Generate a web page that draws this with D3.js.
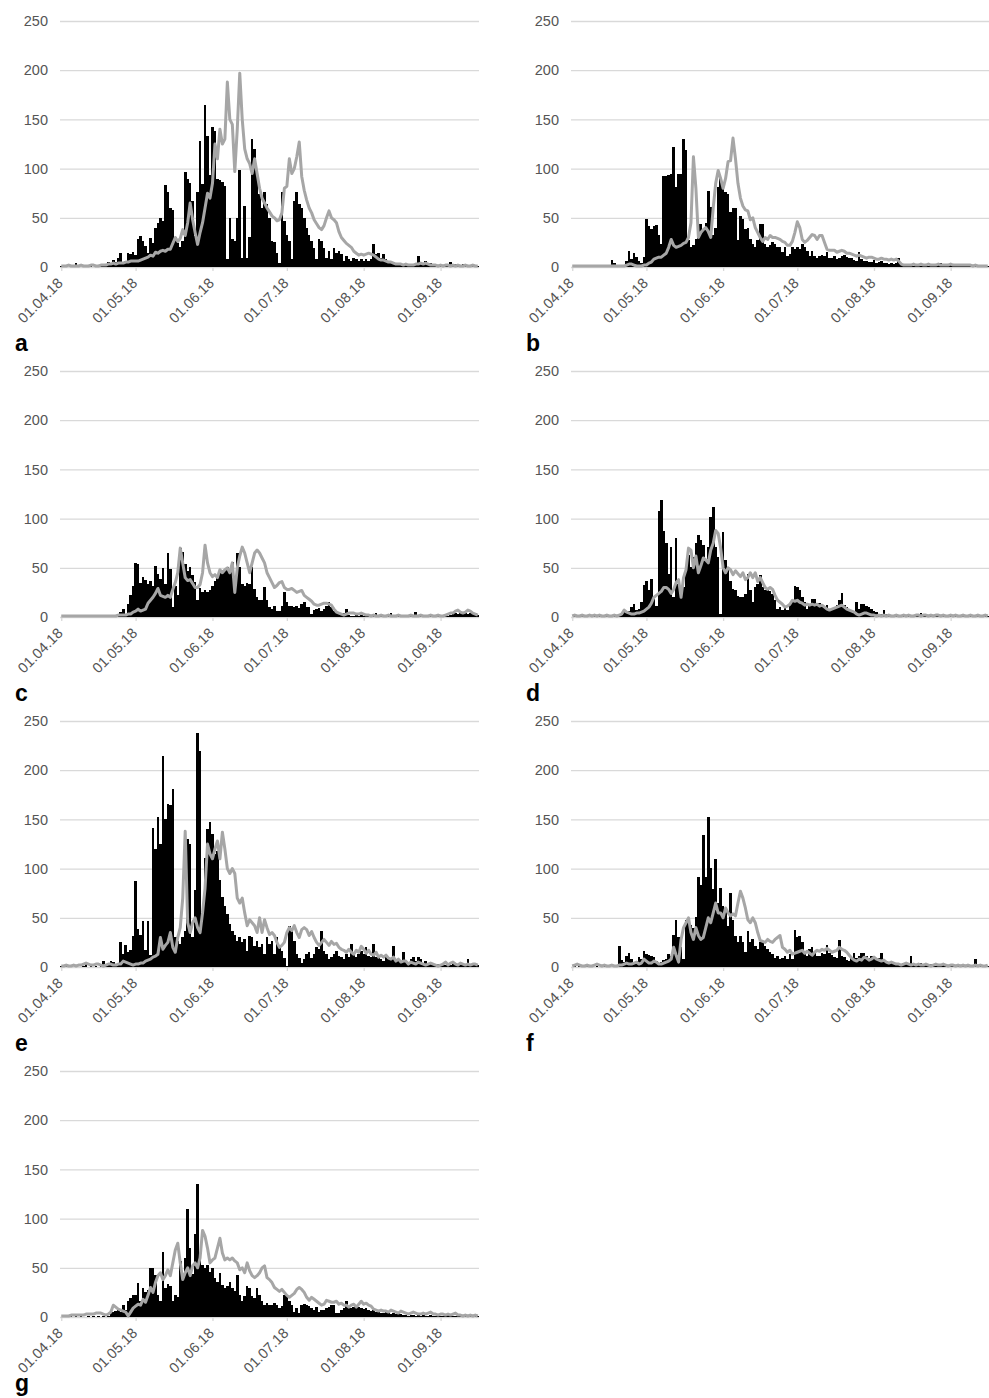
<!DOCTYPE html>
<html>
<head>
<meta charset="utf-8">
<script src="https://cdn.jsdelivr.net/npm/d3@7"></script>
<style>
html, body { margin: 0; padding: 0; background: #fff; }
svg { display: block; font-family: "Liberation Sans", Arial, sans-serif; }
</style>
</head>
<body>
<svg id="chart" width="989" height="1398"></svg>
<script>
//  Daily values, 01.04.18 .. 16.09.18 (169 days). Bars = black, line = grey
const firstDay = '01.04.18';
const lastDay = '16.09.18';
const tickLabels = ['01.04.18', '01.05.18', '01.06.18', '01.07.18', '01.08.18', '01.09.18'];
const yTicks = [0, 50, 100, 150, 200, 250];
const panelNames = ['a', 'b', 'c', 'd', 'e', 'f', 'g'];

const aBars = [
  1,0,1,0,0,2,4,0,0,1, 0,1,2,0,1,0,2,1,3,5, 3,7,5,9,14,4,6,14,13,15,
  12,28,31,26,21,14,29,24,40,45, 50,47,83,76,60,58,30,24,20,26,
  97,89,85,67,32,76,128,84,165,133, 93,142,138,89,88,86,82,8,50,28,
  26,50,99,9,62,9,30,130,120,98, 74,60,76,64,50,26,25,14,4,76,
  47,33,26,8,67,76,64,60,50,40, 33,26,19,8,28,26,19,9,16,8,
  19,14,16,13,6,11,8,6,9,8, 6,8,6,8,6,8,23,13,14,9,
  13,8,6,5,3,3,2,3,2,3, 2,3,2,3,11,4,3,6,3,4, 2,2,1,2,1,2,3,5,2,3,
  1,2,3,1,2,1,2,1,1
];
const aLine = [
  1,1,1,2,1,1,1,1,2,1, 1,1,2,2,1,1,2,2,2,3, 3,4,3,4,4,4,5,5,6,6,
  6,6,7,8,9,10,12,11,15,14, 16,17,16,18,18,24,30,26,29,38,
  32,45,65,48,35,23,35,45,60,75, 70,85,125,110,140,125,130,188,150,145,
  97,140,197,150,120,110,105,95,110,95, 80,70,65,60,56,52,50,47,48,55,
  80,82,110,95,100,112,127,92,78,68, 60,55,48,44,40,38,42,50,57,50,
  48,45,36,30,27,24,22,20,16,14, 12,13,12,13,14,13,12,10,8,7,
  7,6,5,5,4,3,3,3,2,3, 2,2,2,3,3,4,3,4,3,2, 2,2,1,2,1,2,2,1,2,1,
  2,1,1,2,1,1,2,1,1
];

const bBars = [
  0,0,1,0,0,1,0,0,0,1, 0,0,1,0,1,0,7,4,2,1, 1,2,6,16,8,14,10,6,4,10,
  49,42,39,42,43,33,23,92,92,94, 95,122,81,95,95,130,119,27,20,22,
  28,44,44,38,45,77,61,33,40,81, 90,80,76,74,56,60,60,27,52,49,
  39,40,28,23,20,27,44,44,23,20, 22,25,23,20,20,15,20,11,13,20,
  18,20,18,23,20,16,11,16,11,9, 11,12,11,15,9,9,11,8,9,11,
  12,10,9,9,7,6,15,8,6,6, 5,5,7,4,5,6,4,4,3,4,
  3,4,9,2,1,1,2,1,1,2, 1,1,2,1,1,2,1,1,4,4, 2,1,1,2,1,1,2,3,1,1,
  1,2,1,1,0,1,1,2,1
];
const bLine = [
  1,1,1,1,1,1,1,1,1,1, 1,1,1,1,1,1,1,1,1,1, 1,1,2,3,3,2,1,1,1,2,
  2,4,5,8,9,10,10,12,14,20, 28,22,20,21,22,24,25,30,45,112,
  80,30,35,38,40,36,30,60,85,98, 90,80,90,107,108,131,110,85,70,62,
  58,57,48,50,40,35,30,26,30,28, 32,30,30,29,28,26,25,22,22,26,
  35,46,40,28,25,27,30,33,32,28, 32,32,25,18,17,17,17,15,16,17,
  16,14,14,13,12,11,12,11,10,9, 10,10,9,8,8,9,8,8,7,8,
  7,8,6,3,2,2,2,2,3,2, 2,3,2,2,3,2,2,2,3,2, 2,2,2,3,2,2,2,2,2,2,
  2,2,1,2,1,1,1,1,1
];

const cBars = [
  0,1,0,0,1,0,0,1,0,0, 1,0,0,1,0,1,0,0,1,1, 1,1,2,3,5,8,3,13,22,32,
  55,54,35,41,38,34,37,31,52,44, 39,50,34,65,49,10,32,22,70,66,
  54,47,51,43,36,17,29,25,27,25, 27,32,37,41,46,45,47,51,47,56,
  42,65,51,34,32,35,34,51,28,20, 17,17,30,17,10,8,11,6,6,11,
  25,15,11,11,10,11,9,13,15,10, 10,3,7,8,9,6,8,11,15,10,
  6,5,3,2,4,8,2,1,1,2, 1,2,1,1,2,1,1,4,1,2,
  1,1,2,4,1,1,2,1,1,1, 2,1,1,5,1,1,2,1,1,1, 1,2,1,1,1,2,1,2,3,4,
  3,4,3,4,3,4,3,4,2
];
const cLine = [
  1,1,1,1,1,1,1,1,1,1, 1,1,1,1,1,1,1,1,1,1, 1,1,1,2,2,2,2,3,3,5,
  6,8,6,7,8,14,17,20,24,29, 22,21,20,22,20,28,35,45,70,55,
  40,37,38,34,30,30,33,45,73,55, 45,41,43,40,48,45,48,50,45,55,
  25,50,62,71,65,55,45,55,65,68, 65,60,55,45,40,35,30,32,35,36,
  30,28,28,29,27,25,26,27,22,20, 18,16,13,12,12,13,14,14,13,12,
  8,5,4,3,2,3,4,4,4,3, 3,4,3,2,2,1,2,1,1,2,
  1,1,2,1,1,1,2,1,1,1, 1,2,1,1,1,2,1,1,1,2, 1,1,2,1,1,2,3,4,4,6,
  7,5,4,5,7,6,4,3,2
];

const dBars = [
  0,1,0,1,2,0,1,0,1,1, 0,1,2,0,1,0,1,2,1,1, 2,6,4,6,10,13,7,8,15,33,
  37,27,39,18,11,108,119,87,75,44, 71,20,80,34,23,30,51,63,51,61,
  75,83,78,73,58,71,102,112,71,61, 3,86,58,49,37,28,27,21,20,20,
  23,44,27,15,30,34,43,30,27,27, 26,23,17,8,10,7,10,7,12,17,
  32,30,27,20,15,8,13,18,18,12, 14,12,10,12,7,8,10,12,17,24,
  12,10,7,6,5,15,8,13,13,11, 10,8,6,5,3,3,7,3,2,2,
  1,2,1,2,1,1,2,1,2,1, 2,4,3,2,1,2,1,1,2,1, 1,2,1,1,1,2,1,1,1,2,
  1,1,1,2,1,1,1,1,1
];
const dLine = [
  1,2,1,1,2,1,1,2,1,2, 1,2,1,1,2,1,1,2,1,2, 3,7,5,4,3,3,4,4,5,6,
  8,10,14,20,22,24,26,30,30,28, 24,28,35,38,20,40,48,70,68,50,
  62,45,52,60,58,55,68,75,88,85, 70,50,45,50,48,43,47,44,41,45,
  38,40,45,40,45,36,40,35,30,28, 30,28,22,17,15,13,10,11,13,17,
  16,17,15,14,12,13,12,13,12,13, 11,12,10,8,7,8,9,10,11,12,
  10,8,7,6,5,3,2,3,4,4, 3,2,2,1,2,1,2,1,2,1,
  1,2,1,1,2,1,2,1,1,2, 2,1,2,2,1,2,1,2,2,1, 2,1,1,2,1,2,1,1,2,1,
  1,2,1,1,2,1,1,2,1
];

const eBars = [
  1,0,1,0,1,0,1,0,0,1, 3,0,1,0,1,0,2,6,2,3, 6,5,3,4,25,13,22,15,17,32,
  87,39,33,47,17,47,12,141,120,152, 125,214,150,166,165,181,30,26,23,30,
  37,130,125,30,78,238,220,54,111,140, 147,135,115,118,88,71,62,54,44,37,
  33,26,30,25,28,16,32,30,21,26, 20,23,13,30,23,26,13,30,21,16,
  9,1,42,37,26,13,9,4,8,13, 15,9,13,20,18,37,16,13,8,10,
  13,16,11,10,8,13,10,23,13,10, 13,16,13,20,11,10,23,10,10,8,
  6,10,8,8,21,8,6,4,15,6, 4,8,10,6,10,8,4,6,3,4, 3,2,3,2,3,2,2,2,3,2,
  2,2,2,3,8,3,2,3,2
];
const eLine = [
  1,1,2,1,1,2,1,2,2,3, 4,3,2,2,3,3,2,1,2,3, 3,2,2,3,3,6,5,4,3,2,
  3,3,4,4,6,7,8,10,11,13, 30,18,22,25,35,20,15,30,40,70,
  138,45,35,45,50,40,35,55,80,125, 115,110,120,128,110,137,120,100,95,100,
  95,70,65,70,55,42,48,45,42,35, 50,35,48,40,33,35,32,25,20,22,
  25,35,40,37,42,35,30,38,40,38, 32,36,30,25,22,25,28,25,22,26,
  23,24,20,18,17,15,18,15,13,17, 15,21,18,14,17,13,12,15,10,12,
  10,12,9,8,10,6,8,5,6,6, 3,5,4,3,5,4,3,2,3,4, 3,2,1,2,3,5,2,4,5,3,
  2,4,3,2,3,2,3,3,2
];

const fBars = [
  0,1,0,1,0,1,1,0,1,0, 1,0,1,1,0,1,0,1,1,21, 7,5,11,14,8,4,6,10,8,16,
  13,12,11,10,6,4,5,7,8,13, 11,33,48,30,20,8,48,48,43,40,
  51,91,83,134,91,152,101,79,110,65, 80,62,59,42,75,48,31,25,31,25,
  15,37,25,28,21,18,25,25,21,18, 15,13,9,11,8,9,11,8,13,8,
  38,30,31,25,15,11,18,20,14,11, 11,14,13,22,14,12,10,9,27,11,
  10,7,6,9,14,9,11,14,14,11, 9,11,8,8,9,14,6,6,5,5,
  4,3,2,3,4,3,4,11,3,2, 3,4,3,2,2,3,2,1,2,1, 2,1,2,1,1,2,1,2,1,1,
  1,2,1,8,1,1,2,1,1
];
const fLine = [
  1,2,3,2,1,1,2,1,1,2, 3,2,1,2,1,1,2,1,1,2, 2,3,4,3,3,4,5,3,4,8,
  6,4,4,6,5,3,3,4,5,6, 8,20,12,5,28,40,45,50,35,28,
  40,32,28,30,40,50,45,55,65,55, 55,50,60,55,52,54,52,65,77,70,
  60,48,45,50,45,35,27,26,25,28, 26,25,28,30,32,20,18,15,17,13,
  14,15,16,17,14,16,14,12,15,17, 16,18,17,19,17,15,16,17,20,18,
  17,15,12,9,7,6,8,7,10,9, 7,8,10,8,7,6,7,5,4,5,
  4,3,3,2,3,4,3,2,3,2, 3,2,2,3,2,1,2,3,2,2, 3,2,1,2,2,1,2,1,2,1,
  2,1,1,2,1,2,1,1,2
];

const gBars = [
  0,1,0,0,1,0,1,0,1,0, 0,1,0,1,0,1,0,1,0,1, 4,5,6,7,5,12,7,16,19,22,
  22,35,16,29,25,27,50,50,43,22, 16,66,29,34,31,16,22,20,57,42,
  60,110,70,44,84,135,63,53,50,53, 46,50,40,36,45,33,29,31,36,29,
  26,43,22,16,21,31,29,21,19,29, 22,16,12,14,12,12,14,12,9,11,
  22,21,16,12,5,9,4,12,13,12, 11,9,7,10,5,7,7,9,10,12,
  12,4,4,7,9,16,10,9,10,12, 10,9,8,9,7,6,7,5,5,4,
  4,5,4,3,4,3,4,3,2,2, 1,2,2,1,2,1,2,1,1,2, 1,1,2,1,1,1,2,1,1,1,
  1,1,1,2,1,1,1,1,1
];
const gLine = [
  1,1,1,1,2,2,2,2,2,2, 3,3,3,3,4,4,4,3,2,3, 5,12,10,8,7,6,5,1,5,9,
  11,13,12,18,15,22,30,25,35,42, 45,38,42,48,42,55,68,75,55,38,
  45,50,42,52,55,50,60,88,82,70, 55,58,60,70,80,65,58,60,58,60,
  57,55,48,50,45,55,47,42,40,42, 45,50,52,40,38,35,30,28,26,28,
  25,22,20,22,24,28,30,28,25,20, 17,20,18,16,14,12,13,17,16,15,
  15,16,13,14,12,12,10,12,13,10, 13,16,13,14,12,11,8,7,6,7,
  6,6,5,7,6,5,4,6,5,4, 3,4,5,4,3,3,4,3,4,5, 3,3,2,3,3,2,3,2,3,4,
  2,2,1,2,1,2,1,2,1
];

const seriesBars = [aBars, bBars, cBars, dBars, eBars, fBars, gBars];
const seriesLine = [aLine, bLine, cLine, dLine, eLine, fLine, gLine];


// ======================= LAYOUT ===============================
const parseDay = d3.timeParse('%d.%m.%y');
const startDay = parseDay(firstDay);
const nDays = d3.timeDay.count(startDay, parseDay(lastDay)) + 1;
const tickIdx = tickLabels.map(t => d3.timeDay.count(startDay, parseDay(t)));

const columns = [ { x0: 60, x1: 479 }, { x0: 571, x1: 989 } ];
const rowTop = 21;
const rowStep = 350;
const plotH = 246;

const gridColor = '#d9d9d9';
const textColor = '#555555';
const lineColor = '#a6a6a6';

const svgElem = d3.select('#chart');

panelNames.forEach((name, i) => {
    const col = columns[i % 2];
    const row = Math.floor(i / 2);
    const top = rowTop + row * rowStep;
    const base = top + plotH;

    const xScale = d3.scaleLinear()
        .domain([-0.5, nDays - 0.5])
        .range([col.x0, col.x1]);
    const yScale = d3.scaleLinear()
        .domain([0, 250])
        .range([base, top]);

    const panel = svgElem.append('g').attr('class', `panel panel-${name}`);

    // ======================= Y-AXIS + GRID ===============================
    const yAxis = panel.append('g')
        .attr('transform', `translate(${col.x0},0)`)
        .call(d3.axisLeft(yScale)
            .tickValues(yTicks)
            .tickSize(-(col.x1 - col.x0))
            .tickPadding(12));
    yAxis.select('.domain').remove();
    yAxis.selectAll('line').attr('stroke', gridColor).attr('stroke-width', 1.3);
    yAxis.selectAll('text')
        .attr('fill', textColor)
        .style('font-size', '14.5px');

    // ======================= X-AXIS ===============================
    const xAxis = panel.append('g')
        .attr('transform', `translate(0,${base})`)
        .call(d3.axisBottom(xScale)
            .tickValues(tickIdx)
            .tickFormat((d, k) => tickLabels[k])
            .tickSize(4));
    xAxis.select('.domain').remove();
    xAxis.selectAll('line').attr('stroke', gridColor).attr('stroke-width', 1.3);
    xAxis.selectAll('text')
        .attr('fill', textColor)
        .attr('x', 0)
        .attr('y', 0)
        .attr('dy', 0)
        .attr('text-anchor', 'end')
        .attr('transform', 'translate(2,17) rotate(-45)')
        .style('font-size', '14.5px');

    // ======================= BARS ===============================
    //  Bars touch each other, so runs of days read as solid black blocks
    const bw = (xScale(1) - xScale(0)) * 1.05;
    panel.append('g')
        .attr('shape-rendering', 'crispEdges')
        .selectAll('rect')
        .data(seriesBars[i])
        .enter()
        .append('rect')
        .attr('x', (d, k) => xScale(k) - bw / 2)
        .attr('y', d => yScale(d))
        .attr('width', bw)
        .attr('height', d => base - yScale(d))
        .attr('fill', '#000');

    // ======================= LINE ===============================
    const lineGen = d3.line()
        .x((d, k) => xScale(k))
        .y(d => yScale(d));
    panel.append('path')
        .datum(seriesLine[i])
        .attr('d', lineGen)
        .attr('fill', 'none')
        .attr('stroke', lineColor)
        .attr('stroke-width', 3)
        .attr('stroke-linejoin', 'round');

    // ======================= PANEL LETTER ===============================
    //  The last letter sits a little higher and its tail touches the page edge
    panel.append('text')
        .text(name)
        .attr('x', col.x0 - 45)
        .attr('y', row < 3 ? base + 84 : 1391)
        .attr('fill', '#000')
        .style('font-size', '23px')
        .style('font-weight', 'bold');
});
</script>
</body>
</html>
